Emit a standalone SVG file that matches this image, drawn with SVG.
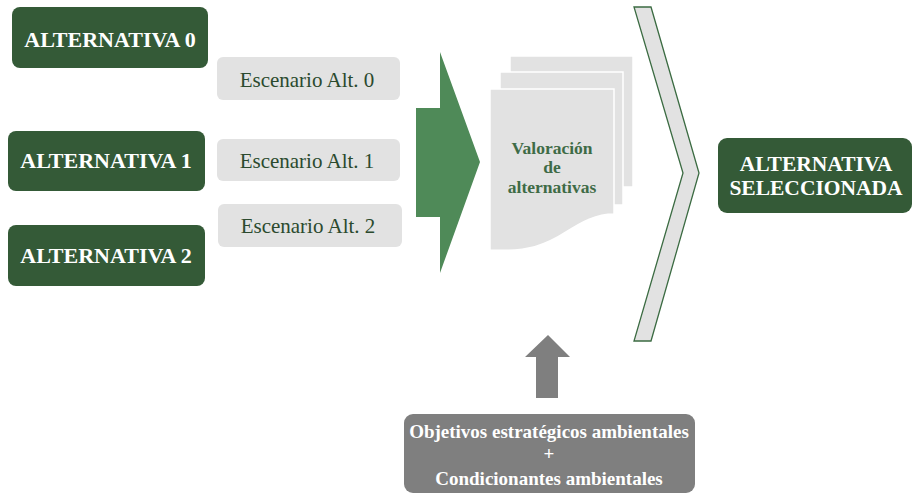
<svg xmlns="http://www.w3.org/2000/svg" width="913" height="495" viewBox="0 0 913 495">
<style>
.alt{fill:#345a37}
.altt{font-family:"Liberation Serif","Times New Roman",serif;font-weight:bold;font-size:22px;fill:#ffffff;text-anchor:middle}
.selt{font-family:"Liberation Serif","Times New Roman",serif;font-weight:bold;font-size:21.5px;fill:#ffffff;text-anchor:middle}
.esc{fill:#e2e2e2}
.esct{font-family:"Liberation Serif","Times New Roman",serif;font-size:21px;fill:#2b4a2e;text-anchor:middle}
.page{fill:#e2e2e2;stroke:#ffffff;stroke-width:1.5}
.valt{font-family:"Liberation Serif","Times New Roman",serif;font-weight:bold;font-size:17.5px;fill:#3e6b46;text-anchor:middle}
.gbox{fill:#7f7f7f}
.gt{font-family:"Liberation Serif","Times New Roman",serif;font-weight:bold;font-size:19px;fill:#ffffff;text-anchor:middle}
</style>
<rect width="913" height="495" fill="#ffffff"/>
<g id="connectors">
  <path id="green-arrow" d="M416,108 H440 V52 L480,162 L440,273 V217 H416 Z" fill="#4f8a58"/>
  <path id="chevron" d="M634,7 H651 L699,173 L651,341 H634 L683,173 Z" fill="#e2e2e2" stroke="#3b6b42" stroke-width="1.3"/>
  <path id="gray-arrow" d="M536,398 V357 H525 L548,335 L570,357 H558 V398 Z" fill="#7f7f7f"/>
</g>
<g id="alt0">
  <rect class="alt" x="12" y="7" width="196" height="61" rx="8"/>
  <text class="altt" x="110" y="47">ALTERNATIVA 0</text>
</g>
<g id="alt1">
  <rect class="alt" x="8" y="131" width="197" height="60" rx="8"/>
  <text class="altt" x="106" y="168">ALTERNATIVA 1</text>
</g>
<g id="alt2">
  <rect class="alt" x="8" y="225" width="197" height="61" rx="8"/>
  <text class="altt" x="106" y="263">ALTERNATIVA 2</text>
</g>
<g id="esc0">
  <rect class="esc" x="217" y="57" width="183" height="43" rx="6"/>
  <text class="esct" x="307" y="87">Escenario Alt. 0</text>
</g>
<g id="esc1">
  <rect class="esc" x="217" y="139" width="183" height="42" rx="6"/>
  <text class="esct" x="307" y="168">Escenario Alt. 1</text>
</g>
<g id="esc2">
  <rect class="esc" x="218" y="204" width="184" height="43" rx="6"/>
  <text class="esct" x="308" y="233">Escenario Alt. 2</text>
</g>
<g id="valoracion">
  <rect class="page" x="510" y="56" width="123" height="131"/>
  <rect class="page" x="500" y="72" width="123" height="133"/>
  <path class="page" d="M490,89 H614 V214 C596,214 582,222 566,232 C546,245 528,252 490,250 Z"/>
  <text class="valt" x="552" y="154">Valoración</text>
  <text class="valt" x="552" y="173">de</text>
  <text class="valt" x="552" y="193">alternativas</text>
</g>
<g id="seleccionada">
  <rect class="alt" x="718" y="138" width="194" height="75" rx="9"/>
  <text class="selt" x="816" y="171">ALTERNATIVA</text>
  <text class="selt" x="816" y="195">SELECCIONADA</text>
</g>
<g id="objetivos">
  <rect class="gbox" x="404" y="414" width="291" height="79" rx="9"/>
  <text class="gt" x="549" y="438">Objetivos estratégicos ambientales</text>
  <text class="gt" x="549" y="460">+</text>
  <text class="gt" x="549" y="485">Condicionantes ambientales</text>
</g>
</svg>
